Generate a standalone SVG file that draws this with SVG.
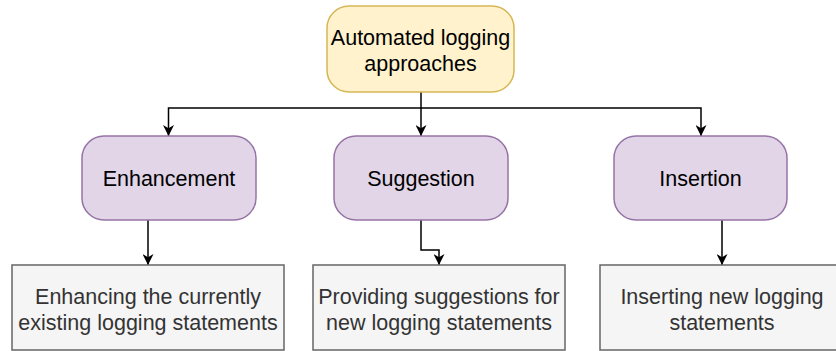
<svg xmlns="http://www.w3.org/2000/svg" width="836" height="351" viewBox="0 0 836 351">
<defs>
<marker id="arr" viewBox="0 0 10 10" refX="10" refY="5" markerWidth="11" markerHeight="11" markerUnits="userSpaceOnUse" orient="auto">
<path d="M0,0 L10,5 L0,10 L3,5 Z" fill="#000"/>
</marker>
<style>
text{font-family:"Liberation Sans",Arial,Helvetica,sans-serif;font-size:21.5px;text-anchor:middle}
.top{fill:#fff2cc;stroke:#d6b656;stroke-width:1.5}
.mid{fill:#e1d5e7;stroke:#9673a6;stroke-width:1.5}
.bot{fill:#f5f5f5;stroke:#666666;stroke-width:1.5}
.dark{fill:#000}
.grey{fill:#333333}
.edge{fill:none;stroke:#000;stroke-width:1.5;marker-end:url(#arr)}
</style>
</defs>
<g id="connectors">
<path class="edge" d="M421,92 V108 H168.5 V136"/>
<path class="edge" d="M421,108 V136"/>
<path class="edge" d="M421,108 H701 V136"/>
<path class="edge" d="M148,220 V265"/>
<path class="edge" d="M421,220 V250 H439 V265"/>
<path class="edge" d="M722,220 V265"/>
</g>
<g id="n-root">
<rect class="top" x="327" y="6" width="187" height="86" rx="22"/>
<text class="dark" x="420.5" y="45">Automated logging</text>
<text class="dark" x="420.5" y="71">approaches</text>
</g>
<g id="n-enh">
<rect class="mid" x="82" y="136" width="174" height="84" rx="22"/>
<text class="dark" x="169" y="186">Enhancement</text>
</g>
<g id="n-sug">
<rect class="mid" x="334" y="136" width="174" height="84" rx="22"/>
<text class="dark" x="421" y="186">Suggestion</text>
</g>
<g id="n-ins">
<rect class="mid" x="614" y="136" width="173" height="84" rx="22"/>
<text class="dark" x="700.5" y="186">Insertion</text>
</g>
<g id="n-b1">
<rect class="bot" x="12" y="265" width="272" height="85"/>
<text class="grey" x="148" y="304">Enhancing the currently</text>
<text class="grey" x="148" y="330">existing logging statements</text>
</g>
<g id="n-b2">
<rect class="bot" x="313" y="265" width="252" height="85"/>
<text class="grey" x="439" y="304">Providing suggestions for</text>
<text class="grey" x="439" y="330">new logging statements</text>
</g>
<g id="n-b3">
<rect class="bot" x="600" y="265" width="244" height="85"/>
<text class="grey" x="722" y="304">Inserting new logging</text>
<text class="grey" x="722" y="330">statements</text>
</g>
</svg>
